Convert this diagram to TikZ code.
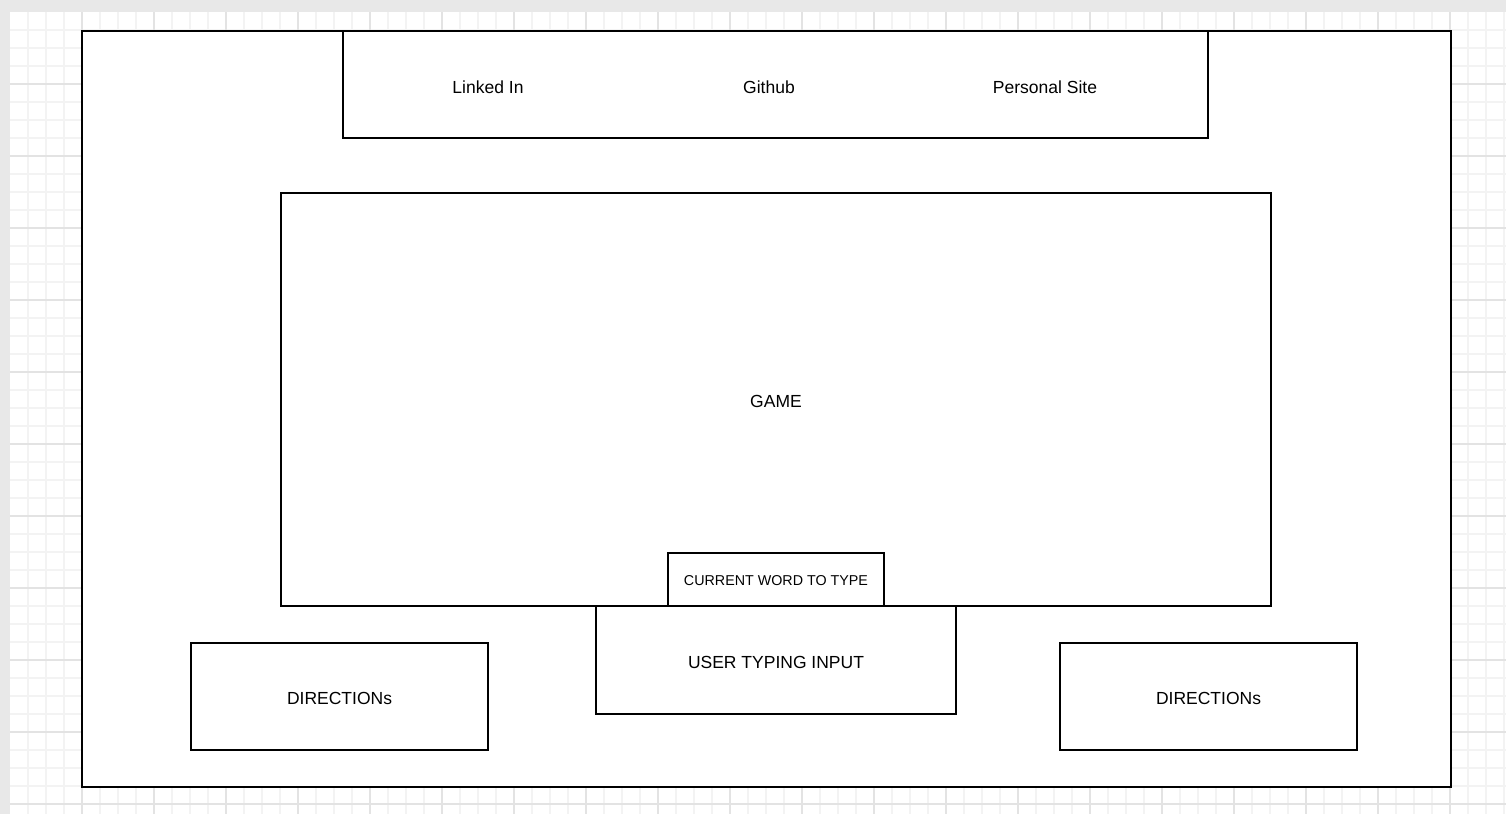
\documentclass[tikz,border=0pt]{standalone}
\usepackage{fontspec}
\setmainfont{Liberation Sans}
\usetikzlibrary{positioning}

\definecolor{pagegray}{HTML}{E8E8E8}
\definecolor{minorgrid}{HTML}{F3F3F3}
\definecolor{majorgrid}{HTML}{E3E3E3}

\tikzset{
  panel/.style={draw=black,line width=1.8pt,fill=white,rectangle,inner sep=0pt},
  label text/.style={font=\fontsize{17.5}{20}\selectfont,text height=16.2pt,text depth=0pt},
  small text/.style={font=\fontsize{14.3}{17}\selectfont,text height=12.2pt,text depth=0pt}
}

\begin{document}
\begin{tikzpicture}[x=1pt,y=-1pt]
        \useasboundingbox (0,0) rectangle (1506,814);
        % page and grid
        \fill[pagegray] (0,0) rectangle (1506,814);
        \fill[white] (10,12) rectangle (1506,814);
        \foreach \x in {28,46,...,1506} \draw[minorgrid,line width=1.3pt] (\x,12) -- (\x,814);
        \foreach \y in {30,48,...,814} \draw[minorgrid,line width=1.3pt] (10,\y) -- (1506,\y);
        \foreach \x in {82,154,...,1506} \draw[majorgrid,line width=1.3pt] (\x,12) -- (\x,814);
        \foreach \y in {84,156,...,814} \draw[majorgrid,line width=1.3pt] (10,\y) -- (1506,\y);
        \begin{scope}[every node/.style={panel}]
          \node (page) at (766.5,409) [minimum width=1369pt,minimum height=756pt] {};
          \node (links) at (775.5,84.5) [minimum width=865pt,minimum height=107pt] {};
          \node[label text] (game) at (776,399.5) [minimum width=990pt,minimum height=413pt] {GAME};
          \node[label text] (input) at (776,660) [minimum width=360pt,minimum height=108pt] {USER TYPING INPUT};
          \node[small text] (word) at (776,579.5) [minimum width=216pt,minimum height=53pt] {CURRENT WORD TO TYPE};
          \node[label text] (dirleft) at (339.5,696.5) [minimum width=297pt,minimum height=107pt] {DIRECTIONs};
          \node[label text] (dirright) at (1208.5,696.5) [minimum width=297pt,minimum height=107pt] {DIRECTIONs};
        \end{scope}
        \begin{scope}[every node/.style={label text}]
          \node (github) at (769,85) {Github};
          \node (linkedin) at (488,85) {Linked In};
          \node (site) at (1045,85) {Personal Site};
        \end{scope}
      \end{tikzpicture}
\end{document}
